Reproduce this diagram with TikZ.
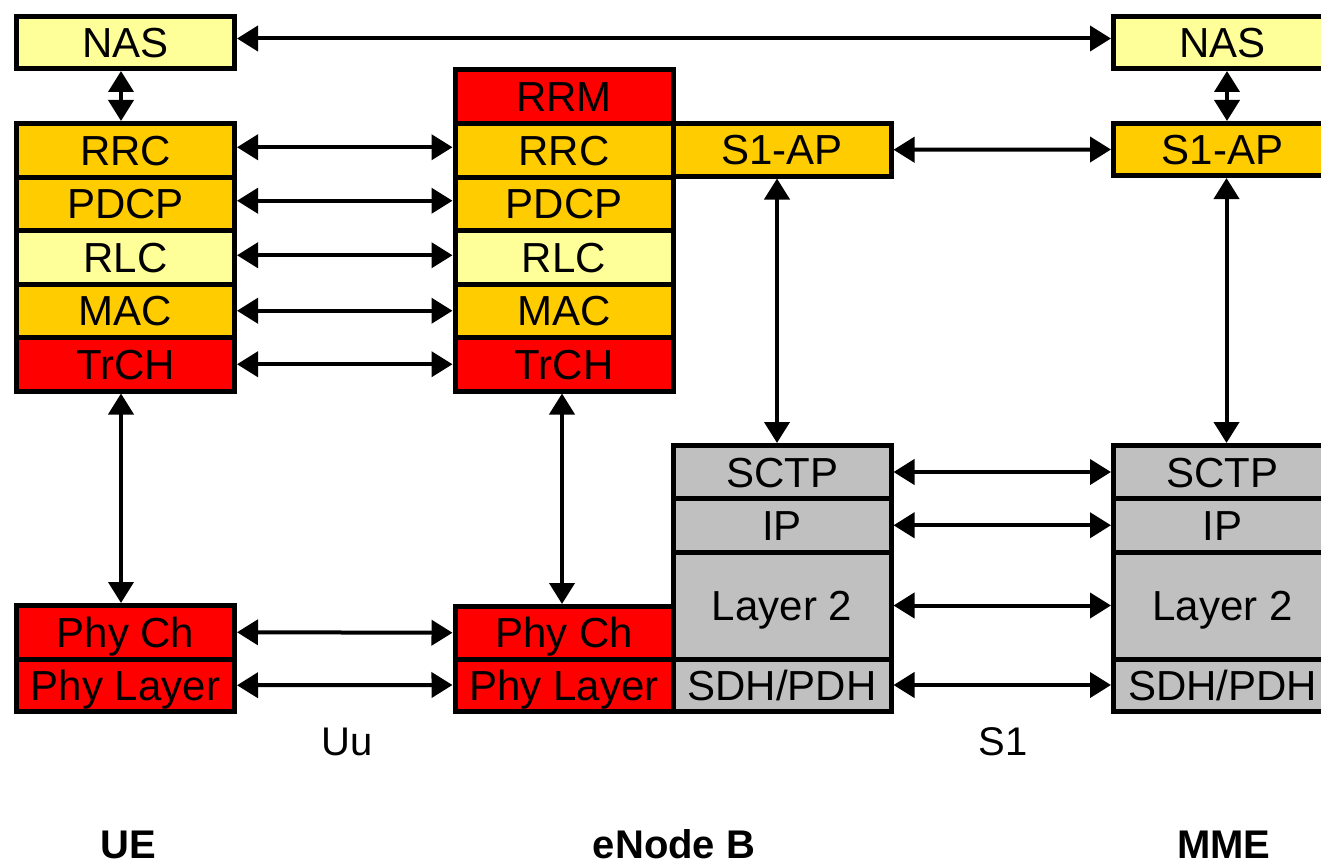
\documentclass[tikz,border=0pt]{standalone}
\usepackage{fontspec}
\setmainfont{Liberation Sans}
\usetikzlibrary{arrows.meta}
\definecolor{lyel}{HTML}{FFFF99}
\definecolor{orng}{HTML}{FFCC00}
\definecolor{rd}{HTML}{FF0000}
\definecolor{gry}{HTML}{C0C0C0}
\begin{document}
\begin{tikzpicture}[x=1pt,y=-1pt,
  layer/.style={draw=black, line width=5pt, minimum width=218pt, inner sep=0pt,
    font=\fontsize{42}{48}\selectfont, text height=30pt, text depth=0pt},
  yel/.style={layer, fill=lyel},
  org/.style={layer, fill=orng},
  red/.style={layer, fill=rd},
  gr/.style={layer, fill=gry},
  conn/.style={{Triangle[length=21pt,width=25pt]}-{Triangle[length=21pt,width=25pt]}, line width=4pt},
  lbl/.style={anchor=base, inner sep=0pt, font=\fontsize{40}{46}\selectfont},
  ttl/.style={anchor=base, inner sep=0pt, font=\fontsize{40}{46}\selectfont\bfseries}]
\useasboundingbox (0,0) rectangle (1321,864);
\clip (0,0) rectangle (1321,864);
\fill[white] (0,0) rectangle (1321,864);
% UE
\node[yel, minimum height=52pt] (uenas) at (125.5,42.5) {NAS};
\node[org, minimum height=53.5pt] (uerrc) at (125.5,150.25) {RRC};
\node[org, minimum height=53.5pt] (uepdcp) at (125.5,203.75) {PDCP};
\node[yel, minimum height=53.5pt] (uerlc) at (125.5,257.25) {RLC};
\node[org, minimum height=53.5pt] (uemac) at (125.5,310.75) {MAC};
\node[red, minimum height=53.5pt] (uetrch) at (125.5,364.25) {TrCH};
\node[red, minimum height=53.5pt] (uephych) at (125.5,632.25) {Phy Ch};
\node[red, minimum height=52.5pt] (uephyl) at (125.5,685.25) {Phy Layer};
% eNode B
\node[red, minimum height=54pt] (enrrm) at (564,96.5) {RRM};
\node[org, minimum height=53.5pt] (enrrc) at (564,150.25) {RRC};
\node[org, minimum height=53.5pt] (enpdcp) at (564,203.75) {PDCP};
\node[yel, minimum height=53.5pt] (enrlc) at (564,257.25) {RLC};
\node[org, minimum height=53.5pt] (enmac) at (564,310.75) {MAC};
\node[red, minimum height=53.5pt] (entrch) at (564,364.25) {TrCH};
\node[org, minimum height=52.5pt] (ens1ap) at (782,149.75) {S1-AP};
\node[red, minimum height=52.5pt] (enphych) at (564,632.75) {Phy Ch};
\node[red, minimum height=52pt] (enphyl) at (564,685) {Phy Layer};
\node[gr, minimum height=53pt] (ensctp) at (782,472) {SCTP};
\node[gr, minimum height=53.5pt] (enip) at (782,525.25) {IP};
\node[gr, minimum height=107pt] (enl2) at (782,605.5) {Layer 2};
\node[gr, minimum height=52pt] (ensdh) at (782,685) {SDH/PDH};
% MME
\node[yel, minimum height=52pt] (mmenas) at (1222.5,42.5) {NAS};
\node[org, minimum height=52pt] (mmes1ap) at (1222.5,149.5) {S1-AP};
\node[gr, minimum height=53pt] (mmesctp) at (1222.5,472) {SCTP};
\node[gr, minimum height=53.5pt] (mmeip) at (1222.5,525.25) {IP};
\node[gr, minimum height=107pt] (mmel2) at (1222.5,605.5) {Layer 2};
\node[gr, minimum height=52pt] (mmesdh) at (1222.5,685) {SDH/PDH};
% horizontal connectors
\draw[conn] ([yshift=4pt]uenas.east) -- ([yshift=4pt]mmenas.west);
\draw[conn] ([yshift=3pt]uerrc.east) -- ([yshift=3pt]enrrc.west);
\draw[conn] ([yshift=3pt]uepdcp.east) -- ([yshift=3pt]enpdcp.west);
\draw[conn] ([yshift=2pt]uerlc.east) -- ([yshift=2pt]enrlc.west);
\draw[conn] (uemac.east) -- (enmac.west);
\draw[conn] (uetrch.east) -- (entrch.west);
\draw[conn] (uephych.east) -- (enphych.west);
\draw[conn] (uephyl.east) -- (enphyl.west);
\draw[conn] (ens1ap.east) -- (mmes1ap.west);
\draw[conn] (ensctp.east) -- (mmesctp.west);
\draw[conn] (enip.east) -- (mmeip.west);
\draw[conn] (enl2.east) -- (mmel2.west);
\draw[conn] (ensdh.east) -- (mmesdh.west);
% vertical connectors
\draw[conn] ([xshift=-4.5pt]uenas.south) -- ([xshift=-4.5pt]uerrc.north);
\draw[conn] ([xshift=-4.5pt]uetrch.south) -- ([xshift=-4.5pt]uephych.north);
\draw[conn] ([xshift=-2pt]entrch.south) -- ([xshift=-2pt]enphych.north);
\draw[conn] ([xshift=-5pt]ens1ap.south) -- ([xshift=-5pt]ensctp.north);
\draw[conn] ([xshift=4.5pt]mmenas.south) -- ([xshift=4.5pt]mmes1ap.north);
\draw[conn] ([xshift=4pt]mmes1ap.south) -- ([xshift=4pt]mmesctp.north);
% labels
\node[lbl] (uu) at (347,755) {Uu};
\node[lbl] (s1) at (1003,755) {S1};
\node[ttl] (ue) at (128,858) {UE};
\node[ttl] (enb) at (674,858) {eNode B};
\node[ttl] (mme) at (1224,858) {MME};
\end{tikzpicture}
\end{document}
